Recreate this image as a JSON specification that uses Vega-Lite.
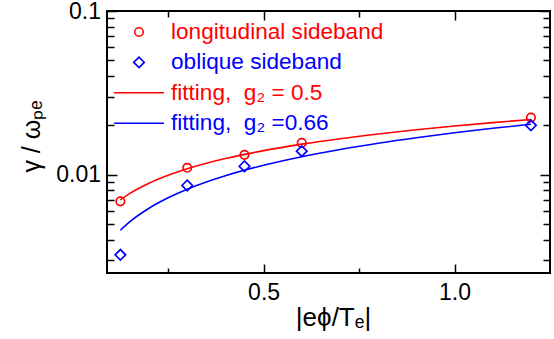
{
  "$schema": "https://vega.github.io/schema/vega-lite/v6.json",
  "width": 443,
  "height": 262,
  "autosize": {"type": "none"},
  "padding": {"left": 107, "top": 11, "right": 4, "bottom": 66},
  "background": "white",
  "config": {
    "view": {"stroke": "black", "strokeWidth": 2},
    "axis": {
      "grid": false,
      "domain": false,
      "labelFont": "Liberation Sans",
      "labelFontSize": 23,
      "labelColor": "black",
      "labelFlush": false,
      "labelOverlap": false,
      "labelBound": false,
      "tickColor": "black",
      "tickWidth": 1.5,
      "titleFont": "Liberation Sans",
      "titleFontSize": 26,
      "titleFontWeight": "normal",
      "titleColor": "black"
    },
    "legend": {
      "labelFont": "Liberation Sans",
      "labelFontSize": 22.6,
      "labelOffset": 6,
      "labelLimit": 400,
      "rowPadding": 7.4,
      "clipHeight": 22,
      "symbolStrokeWidth": 1.6,
      "padding": 0
    }
  },
  "datasets": {
    "pts": [
      {"x": 0.125, "y": 0.00686, "series": "longitudinal sideband"},
      {"x": 0.3, "y": 0.0110, "series": "longitudinal sideband"},
      {"x": 0.45, "y": 0.0132, "series": "longitudinal sideband"},
      {"x": 0.6, "y": 0.0156, "series": "longitudinal sideband"},
      {"x": 1.2, "y": 0.0223, "series": "longitudinal sideband"},
      {"x": 0.125, "y": 0.00323, "series": "oblique sideband"},
      {"x": 0.3, "y": 0.00857, "series": "oblique sideband"},
      {"x": 0.45, "y": 0.01124, "series": "oblique sideband"},
      {"x": 0.6, "y": 0.0139, "series": "oblique sideband"},
      {"x": 1.2, "y": 0.0200, "series": "oblique sideband"}
    ],
    "fit": [
      {"x": 0.125, "y": 0.0070, "series": "fitting,\u00a0 g₂ = 0.5"},
      {"x": 0.15, "y": 0.007669, "series": "fitting,\u00a0 g₂ = 0.5"},
      {"x": 0.2, "y": 0.008855, "series": "fitting,\u00a0 g₂ = 0.5"},
      {"x": 0.25, "y": 0.0099, "series": "fitting,\u00a0 g₂ = 0.5"},
      {"x": 0.3, "y": 0.010845, "series": "fitting,\u00a0 g₂ = 0.5"},
      {"x": 0.35, "y": 0.011714, "series": "fitting,\u00a0 g₂ = 0.5"},
      {"x": 0.4, "y": 0.012523, "series": "fitting,\u00a0 g₂ = 0.5"},
      {"x": 0.5, "y": 0.014001, "series": "fitting,\u00a0 g₂ = 0.5"},
      {"x": 0.6, "y": 0.015337, "series": "fitting,\u00a0 g₂ = 0.5"},
      {"x": 0.7, "y": 0.016567, "series": "fitting,\u00a0 g₂ = 0.5"},
      {"x": 0.8, "y": 0.017709, "series": "fitting,\u00a0 g₂ = 0.5"},
      {"x": 0.9, "y": 0.018784, "series": "fitting,\u00a0 g₂ = 0.5"},
      {"x": 1.0, "y": 0.0198, "series": "fitting,\u00a0 g₂ = 0.5"},
      {"x": 1.1, "y": 0.020766, "series": "fitting,\u00a0 g₂ = 0.5"},
      {"x": 1.2, "y": 0.021689, "series": "fitting,\u00a0 g₂ = 0.5"},
      {"x": 0.125, "y": 0.004563, "series": "fitting,\u00a0 g₂ =0.66"},
      {"x": 0.15, "y": 0.005146, "series": "fitting,\u00a0 g₂ =0.66"},
      {"x": 0.2, "y": 0.006223, "series": "fitting,\u00a0 g₂ =0.66"},
      {"x": 0.25, "y": 0.007209, "series": "fitting,\u00a0 g₂ =0.66"},
      {"x": 0.3, "y": 0.008132, "series": "fitting,\u00a0 g₂ =0.66"},
      {"x": 0.35, "y": 0.009002, "series": "fitting,\u00a0 g₂ =0.66"},
      {"x": 0.4, "y": 0.009832, "series": "fitting,\u00a0 g₂ =0.66"},
      {"x": 0.5, "y": 0.011392, "series": "fitting,\u00a0 g₂ =0.66"},
      {"x": 0.6, "y": 0.012848, "series": "fitting,\u00a0 g₂ =0.66"},
      {"x": 0.7, "y": 0.014224, "series": "fitting,\u00a0 g₂ =0.66"},
      {"x": 0.8, "y": 0.015534, "series": "fitting,\u00a0 g₂ =0.66"},
      {"x": 0.9, "y": 0.016790, "series": "fitting,\u00a0 g₂ =0.66"},
      {"x": 1.0, "y": 0.018, "series": "fitting,\u00a0 g₂ =0.66"},
      {"x": 1.1, "y": 0.019168, "series": "fitting,\u00a0 g₂ =0.66"},
      {"x": 1.2, "y": 0.020302, "series": "fitting,\u00a0 g₂ =0.66"}
    ]
  },
  "resolve": {"axis": {"x": "independent", "y": "independent"}},
  "layer": [
    {
      "data": {"name": "fit"},
      "mark": {"type": "line", "strokeWidth": 1.6, "interpolate": "monotone"},
      "encoding": {
        "x": {
          "field": "x", "type": "quantitative",
          "scale": {"domain": [0.09, 1.25], "nice": false, "zero": false},
          "axis": {"orient": "bottom", "values": [0.5, 1.0], "format": ".1f", "tickSize": -9, "labelPadding": 17,
                   "title": "|eϕ/Tₑ|", "titleX": 226, "titleY": 52, "titleBaseline": "alphabetic", "titleAlign": "center"}
        },
        "y": {
          "field": "y", "type": "quantitative",
          "scale": {"type": "log", "domain": [0.0025, 0.1], "nice": false},
          "axis": {"orient": "left", "values": [0.01, 0.1], "format": ".2~f", "tickSize": -10, "labelPadding": 16.5,
                   "title": "γ / ωₚₑ", "titleFontSize": 25, "titleX": -68, "titleY": 125, "titleBaseline": "alphabetic", "titleAngle": -90, "titleAlign": "center"}
        },
        "color": {
          "field": "series", "type": "nominal",
          "scale": {
            "domain": ["longitudinal sideband", "oblique sideband", "fitting,\u00a0 g₂ = 0.5", "fitting,\u00a0 g₂ =0.66"],
            "range": ["#ff0000", "#0000ff", "#ff0000", "#0000ff"]
          },
          "legend": {
            "title": null,
            "orient": "none",
            "legendX": 6,
            "legendY": 10,
            "labelFontSize": 22.6,
            "labelOffset": 6,
            "clipHeight": 22,
            "rowPadding": 7.4,
            "labelColor": {"expr": "(datum.label == 'longitudinal sideband' || slice(datum.label, -3) == '0.5') ? '#ff0000' : '#0000ff'"}
          }
        }
      }
    },
    {
      "data": {"name": "pts"},
      "mark": {"type": "point", "filled": false, "strokeWidth": 1.7, "opacity": 1},
      "encoding": {
        "x": {
          "field": "x", "type": "quantitative",
          "axis": {"orient": "bottom", "values": [0.25, 0.75], "labels": false, "tickSize": -5, "title": null}
        },
        "y": {
          "field": "y", "type": "quantitative",
          "axis": {"orient": "left", "values": [0.003, 0.004, 0.005, 0.006, 0.007, 0.008, 0.009, 0.02, 0.03, 0.04, 0.05, 0.06, 0.07, 0.08, 0.09], "labels": false, "tickSize": -7, "title": null}
        },
        "color": {"field": "series", "type": "nominal"},
        "shape": {
          "field": "series", "type": "nominal",
          "scale": {
            "domain": ["longitudinal sideband", "oblique sideband", "fitting,\u00a0 g₂ = 0.5", "fitting,\u00a0 g₂ =0.66"],
            "range": ["circle", "diamond", "stroke", "stroke"]
          }
        },
        "size": {
          "field": "series", "type": "nominal",
          "scale": {
            "type": "ordinal",
            "domain": ["longitudinal sideband", "oblique sideband", "fitting,\u00a0 g₂ = 0.5", "fitting,\u00a0 g₂ =0.66"],
            "range": [72, 110, 2500, 2500]
          }
        }
      }
    },
    {
      "data": {"name": "pts"},
      "mark": {"type": "point", "opacity": 0},
      "encoding": {
        "x": {
          "field": "x", "type": "quantitative",
          "axis": {"orient": "top", "values": [0.5, 1.0], "labels": false, "tickSize": -9, "title": null}
        },
        "y": {
          "field": "y", "type": "quantitative",
          "axis": {"orient": "right", "values": [0.01, 0.1], "labels": false, "tickSize": -10, "title": null}
        }
      }
    },
    {
      "data": {"name": "pts"},
      "mark": {"type": "point", "opacity": 0},
      "encoding": {
        "x": {
          "field": "x", "type": "quantitative",
          "axis": {"orient": "top", "values": [0.25, 0.75], "labels": false, "tickSize": -6, "title": null}
        },
        "y": {
          "field": "y", "type": "quantitative",
          "axis": {"orient": "right", "values": [0.003, 0.004, 0.005, 0.006, 0.007, 0.008, 0.009, 0.02, 0.03, 0.04, 0.05, 0.06, 0.07, 0.08, 0.09], "labels": false, "tickSize": -7, "title": null}
        }
      }
    }
  ]
}
